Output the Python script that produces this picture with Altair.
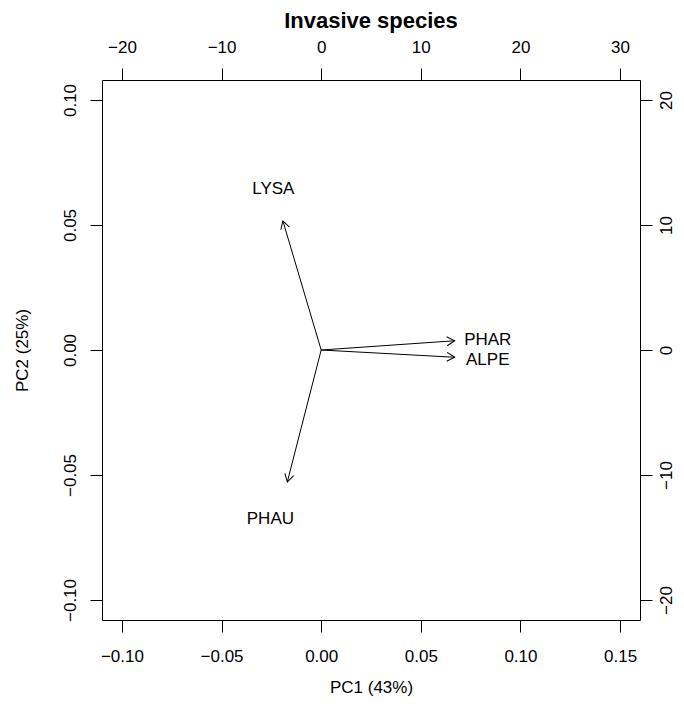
import math
import altair as alt
import pandas as pd

# ---- data ----
species = ["LYSA", "PHAR", "ALPE", "PHAU"]
pc1_tip = [-0.0192, 0.0670, 0.0670, -0.0170]
pc2_tip = [0.0516, 0.0037, -0.0029, -0.0528]
pc1_lab = [-0.0240, 0.0836, 0.0836, -0.0255]
pc2_lab = [0.0644, 0.0040, -0.0038, -0.0676]

x_ticks = [-0.10, -0.05, 0.00, 0.05, 0.10, 0.15]
y_ticks = [-0.10, -0.05, 0.00, 0.05, 0.10]
top_ticks = [-20, -10, 0, 10, 20, 30]
right_ticks = [-20, -10, 0, 10, 20]

x_dom = [-0.11, 0.16]
y_dom = [-0.108, 0.108]
top_dom = [-22, 32]
right_dom = [-21.6, 21.6]

W, H = 538, 540
FONT = "Liberation Sans"

# pixel per data unit (for arrowhead orientation)
kx = W / (x_dom[1] - x_dom[0])
ky = H / (y_dom[1] - y_dom[0])

df = pd.DataFrame({
    "species": species,
    "pc1": pc1_tip,
    "pc2": pc2_tip,
    "lx": pc1_lab,
    "ly": pc2_lab,
})
df["angle"] = [
    math.degrees(math.atan2(a * kx, b * ky)) % 360 for a, b in zip(pc1_tip, pc2_tip)
]

xs = alt.Scale(domain=x_dom, nice=False, zero=False)
ys = alt.Scale(domain=y_dom, nice=False, zero=False)

common = dict(grid=False, domain=True, domainColor="black", domainWidth=1,
              tickSize=12, tickColor="black", tickWidth=1, labelFontSize=17,
              labelColor="black", labelFont=FONT)

x_axis = alt.Axis(
    orient="bottom", values=x_ticks, format=".2f", labelPadding=16,
    labelBaseline="top",
    title="PC1 (43%)", titleFont=FONT, titleFontSize=17, titleFontWeight="normal",
    titleColor="black", titleX=269, titleY=67, titleBaseline="middle",
    titleAlign="center", **common,
)
y_axis = alt.Axis(
    orient="left", values=y_ticks, format=".2f", labelPadding=11,
    labelAngle=270, labelAlign="center", labelBaseline="bottom",
    title="PC2 (25%)", titleFont=FONT, titleFontSize=17, titleFontWeight="normal",
    titleColor="black", titleX=-80, titleY=270, titleAngle=270,
    titleBaseline="middle", titleAlign="center", **common,
)

base = alt.Chart(df)

shafts = base.mark_rule(color="black", strokeWidth=1).encode(
    x=alt.X("pc1:Q", scale=xs, axis=x_axis),
    y=alt.Y("pc2:Q", scale=ys, axis=y_axis),
    x2=alt.datum(0),
    y2=alt.datum(0),
)

heads = base.mark_point(
    shape="M -0.5 0.866 L 0 0 L 0.5 0.866",
    filled=False, stroke="black", strokeWidth=1, size=324, opacity=1,
).encode(
    x=alt.X("pc1:Q", scale=xs),
    y=alt.Y("pc2:Q", scale=ys),
    angle=alt.Angle("angle:Q", scale=None),
)

labels = base.mark_text(
    font=FONT, fontSize=17, color="black", align="center", baseline="middle"
).encode(
    x=alt.X("lx:Q", scale=xs),
    y=alt.Y("ly:Q", scale=ys),
    text="species:N",
)

main = alt.layer(shafts, heads, labels)

sec_df = pd.DataFrame({"t": [top_dom[0], top_dom[1]], "r": [right_dom[0], right_dom[1]]})
secondary = alt.Chart(sec_df).mark_point(opacity=0).encode(
    x=alt.X("t:Q", scale=alt.Scale(domain=top_dom, nice=False, zero=False),
            axis=alt.Axis(orient="top", values=top_ticks, format="d",
                          labelPadding=12, labelBaseline="bottom", title=None,
                          **common)),
    y=alt.Y("r:Q", scale=alt.Scale(domain=right_dom, nice=False, zero=False),
            axis=alt.Axis(orient="right", values=right_ticks, format="d",
                          labelPadding=6, labelAngle=270, labelAlign="center",
                          labelBaseline="top", title=None, **common)),
)

chart = (
    alt.layer(main, secondary)
    .resolve_scale(x="independent", y="independent")
    .properties(
        width=W, height=H,
        title=alt.TitleParams("Invasive species", font=FONT, fontSize=22,
                              fontWeight="bold", color="black", anchor="middle",
                              offset=5),
        autosize=alt.AutoSizeParams(type="none"),
        padding={"left": 94, "top": 72, "right": 36, "bottom": 76},
    )
    .configure_view(stroke="black", strokeWidth=1)
    .configure(background="white")
)

chart.save("out.html", embed_options={"renderer": "svg", "actions": False})
